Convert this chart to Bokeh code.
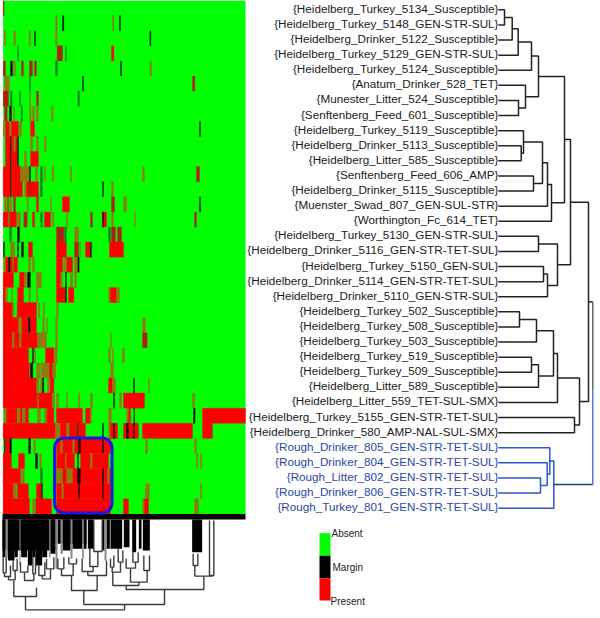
from bokeh.plotting import figure
from bokeh.embed import file_html
from bokeh.resources import INLINE
from bokeh.core.properties import value

row_labels = [
 "{Heidelberg_Turkey_5134_Susceptible}","{Heidelberg_Turkey_5148_GEN-STR-SUL}","{Heidelberg_Drinker_5122_Susceptible}",
 "{Heidelberg_Turkey_5129_GEN-STR-SUL}","{Heidelberg_Turkey_5124_Susceptible}","{Anatum_Drinker_528_TET}",
 "{Munester_Litter_524_Susceptible}","{Senftenberg_Feed_601_Susceptible}","{Heidelberg_Turkey_5119_Susceptible}",
 "{Heidelberg_Drinker_5113_Susceptible}","{Heidelberg_Litter_585_Susceptible}","{Senftenberg_Feed_606_AMP}",
 "{Heidelberg_Drinker_5115_Susceptible}","{Muenster_Swad_807_GEN-SUL-STR}","{Worthington_Fc_614_TET}",
 "{Heidelberg_Turkey_5130_GEN-STR-SUL}","{Heidelberg_Drinker_5116_GEN-STR-TET-SUL}","{Heidelberg_Turkey_5150_GEN-SUL}",
 "{Heidelberg_Drinker_5114_GEN-STR-TET-SUL}","{Heidelberg_Drinker_5110_GEN-STR-SUL}","{Heidelberg_Turkey_502_Susceptible}",
 "{Heidelberg_Turkey_508_Susceptible}","{Heidelberg_Turkey_503_Susceptible}","{Heidelberg_Turkey_519_Susceptible}",
 "{Heidelberg_Turkey_509_Susceptible}","{Heidelberg_Litter_589_Susceptible}","{Heidelberg_Litter_559_TET-SUL-SMX}",
 "{Heidelberg_Turkey_5155_GEN-STR-TET-SUL}","{Heidelberg_Drinker_580_AMP-NAL-SUL-SMX}","{Rough_Drinker_805_GEN-STR-TET-SUL}",
 "{Rough_Drinker_804_GEN-STR-TET-SUL}","{Rough_Litter_802_GEN-STR-TET-SUL}","{Rough_Drinker_806_GEN-STR-TET-SUL}",
 "{Rough_Turkey_801_GEN-STR-TET-SUL}"]
blue_rows = list(range(29, 34))

# Heat map runs per row: (start, end, state); columns counted in thirds of a cell
heat_runs = [
 [(8,11,"D")],
 [(165,170,"O"),(186,190,"K"),(336,340,"O"),(357,360,"K")],
 [(11,15,"O"),(40,45,"O"),(86,90,"O"),(102,105,"K"),(165,170,"O"),(448,451,"K")],
 [(51,54,"G"),(170,186,"D"),(195,198,"G"),(333,340,"R")],
 [(8,15,"D"),(30,36,"K"),(39,45,"O"),(63,69,"D"),(87,96,"D"),(102,108,"D"),(165,171,"G"),(360,363,"K"),(448,453,"O")],
 [(12,27,"O"),(87,90,"G"),(246,249,"K"),(576,583,"D")],
 [(8,24,"D"),(30,35,"G"),(57,60,"G"),(87,90,"O"),(108,114,"D"),(232,237,"G")],
 [(12,20,"D"),(27,33,"K"),(39,42,"O"),(62,66,"G"),(87,92,"O"),(96,102,"O"),(108,114,"O"),(153,158,"O")],
 [(8,12,"O"),(15,27,"R"),(27,33,"O"),(33,54,"R"),(57,63,"O"),(90,102,"R"),(597,600,"K")],
 [(15,30,"R"),(30,33,"K"),(33,51,"R"),(39,45,"O"),(51,54,"K"),(90,96,"O"),(108,114,"O"),(132,137,"O")],
 [(15,30,"R"),(30,33,"K"),(33,51,"R"),(51,54,"K"),(72,78,"O"),(90,114,"R")],
 [(8,30,"R"),(30,33,"K"),(33,60,"R"),(60,87,"O"),(87,90,"K"),(105,111,"O"),(120,126,"G"),(132,135,"O"),(155,160,"O"),(210,214,"O"),(426,432,"O"),(588,597,"D")],
 [(8,30,"R"),(30,33,"K"),(33,66,"R"),(72,78,"O"),(78,114,"R"),(85,90,"D"),(120,126,"G"),(306,309,"K"),(333,339,"O")],
 [(12,18,"O"),(21,24,"D"),(27,33,"O"),(39,45,"D"),(80,84,"O"),(108,114,"R"),(150,153,"O"),(186,207,"R"),(333,342,"D"),(369,378,"O"),(597,600,"K")],
 [(8,24,"R"),(27,48,"R"),(51,60,"O"),(70,80,"D"),(96,102,"R"),(120,126,"G"),(132,150,"R"),(155,160,"O"),(198,202,"O"),(270,276,"D"),(306,318,"R"),(306,309,"K"),(333,339,"O"),(402,405,"O"),(582,588,"D")],
 [(27,33,"G"),(51,57,"K"),(168,190,"D"),(192,198,"G"),(222,234,"O"),(324,330,"G"),(333,345,"D"),(351,363,"D")],
 [(9,12,"K"),(30,42,"O"),(51,54,"K"),(63,69,"K"),(84,96,"R"),(168,198,"R"),(222,234,"D"),(237,240,"O"),(255,270,"R"),(270,273,"K"),(327,369,"R")],
 [(10,15,"O"),(16,24,"R"),(24,30,"K"),(30,36,"R"),(39,51,"R"),(84,90,"O"),(96,102,"O"),(168,186,"R"),(189,195,"O"),(198,216,"R"),(222,232,"O"),(232,236,"K")],
 [(8,39,"R"),(57,72,"R"),(72,78,"O"),(81,90,"K"),(108,123,"O"),(168,180,"R"),(180,186,"O"),(195,198,"K"),(210,216,"O"),(222,228,"O")],
 [(8,15,"R"),(15,21,"O"),(33,36,"O"),(51,69,"R"),(85,90,"O"),(108,112,"O"),(168,195,"R"),(195,198,"K"),(204,220,"R"),(324,330,"O"),(330,348,"R"),(350,357,"O")],
 [(8,36,"R"),(36,40,"O"),(50,108,"R"),(114,118,"O"),(128,132,"O"),(168,174,"O")],
 [(8,54,"R"),(54,60,"O"),(63,84,"R"),(84,90,"K"),(90,108,"R"),(126,132,"O"),(138,141,"O"),(165,171,"O"),(426,435,"O")],
 [(8,36,"R"),(36,42,"O"),(42,57,"R"),(57,63,"O"),(63,111,"R"),(111,138,"O"),(165,171,"O"),(330,333,"O"),(426,440,"D")],
 [(8,84,"R"),(96,100,"K"),(100,105,"O"),(135,160,"R"),(162,170,"O"),(324,330,"O"),(336,339,"O"),(366,372,"O")],
 [(8,87,"R"),(87,90,"O"),(90,97,"K"),(108,120,"O"),(123,147,"O"),(147,156,"R"),(156,166,"O"),(330,339,"O")],
 [(8,108,"R"),(110,115,"O"),(120,126,"O"),(126,130,"K"),(141,150,"O"),(150,160,"R"),(324,336,"R"),(336,345,"O"),(399,402,"K"),(444,447,"O")],
 [(8,111,"R"),(114,155,"R"),(155,162,"O"),(168,174,"O"),(198,201,"O"),(234,238,"O"),(270,276,"O"),(339,342,"K"),(357,363,"O"),(369,432,"R"),(576,582,"O")],
 [(11,16,"O"),(18,50,"R"),(51,60,"O"),(60,66,"R"),(66,75,"O"),(75,84,"R"),(111,120,"O"),(132,140,"O"),(140,160,"R"),(168,246,"R"),(255,270,"R"),(270,273,"O"),(324,333,"O"),(378,384,"O"),(384,390,"R"),(400,402,"K"),(579,584,"K"),(606,735,"R")],
 [(8,165,"R"),(165,180,"O"),(180,198,"R"),(198,207,"O"),(207,230,"R"),(231,234,"K"),(234,255,"R"),(306,309,"K"),(324,330,"O"),(330,351,"R"),(339,342,"K"),(369,414,"R"),(378,384,"K"),(399,402,"K"),(426,576,"R"),(606,636,"R")],
 [(12,15,"K"),(15,28,"R"),(28,33,"K"),(84,90,"K"),(100,105,"O"),(168,330,"R"),(180,186,"O"),(216,222,"O"),(234,240,"K"),(306,309,"K"),(435,441,"O"),(582,588,"O")],
 [(8,33,"R"),(54,72,"R"),(105,111,"K"),(117,123,"O"),(168,195,"R"),(195,198,"O"),(198,222,"R"),(231,234,"K"),(240,270,"R"),(270,276,"O"),(276,324,"R"),(588,592,"O"),(600,604,"O")],
 [(8,60,"R"),(63,72,"O"),(120,126,"G"),(168,330,"R"),(168,186,"O"),(198,216,"O"),(231,240,"K"),(306,309,"K"),(321,326,"O")],
 [(8,39,"R"),(39,48,"O"),(51,84,"R"),(108,123,"R"),(123,126,"K"),(168,330,"R"),(183,189,"O"),(234,237,"K"),(306,309,"K"),(435,447,"O"),(600,604,"O")],
 [(8,87,"R"),(96,102,"O"),(105,153,"R"),(168,330,"R"),(369,384,"R"),(426,432,"O"),(432,444,"R"),(582,594,"O")],
]
state_colors = {"R":"#ff0000","O":"#8f7a12","D":"#b02010","K":"#0a0a0a","G":"#127a22"}

# Row tree merges: (node, child, child, height)
row_merges = [
 ("a",0,1,504),("b","a",2,511.7),("c","b",3,517.7),("d","c",4,531),("e",6,7,518),("f",5,"e",525),("g","d","f",538),
 ("h",9,10,520.7),("i",8,"h",523),("j",11,12,533),("k","i","j",542),("l","k",13,547),("m","l",14,551),("n","g","m",564),
 ("o",15,16,538),("p",17,18,543),("q","p",19,547),("r","o","q",557),("s","n","r",570),
 ("t",20,21,519),("u","t",22,536),("v",23,24,531),("w","v",25,538),("x","u","w",553),("y","x",26,557),("z",27,28,574),
 ("aa","y","z",579),("ab","s","aa",588),
 ("b1",31,32,540),("b2",30,"b1",546.7),("b3",29,"b2",549.3),("b4","b3",33,553.3),("root","ab","b4",592.3)]
blue_nodes = ["b1","b2","b3","b4"]
root_gray_until = 390

# Column tree merges, thirds of a cell: (left, right, level, left top, right top)
col_merges = [
 (75,372,283,243,267),(40,108,243,195,217),(250,492,267,225,222),(213,290,225,180,180),(377,610,222,210,182),
 (337,415,210,170,200),(390,440,200,160,165),(377,405,158,130,140),(397,413,140,110,110),(430,447,165,120,120),
 (335,360,170,155,140),(330,340,155,130,120),(353,367,140,100,105),(583,635,182,150,180),(578,592,150,115,115),(627,640,180,15,15),
 (8,17,172,125,125),(12,30,183,172,150),(38,50,165,135,130),(24,44,193,183,165),(60,82,170,140,150),(97,105,175,125,125),
 (72,100,195,172,175),(115,133,180,150,140),(138,160,160,130,125),(125,150,190,180,160),(172,190,160,130,125),(205,228,145,125,130),
 (183,218,180,160,145),(245,278,168,130,153),(262,318,180,168,135),(268,292,153,100,108),(280,305,108,15,15),
]
# Dense upper part of the column tree: (left, right, bottom)
col_dense = [(6,165,105),(171,258,85),(6,15,125),(22,42,135),(42,52,125),(62,80,125),(82,95,150),(95,105,125),(105,125,150),(125,140,125),(150,165,115),
 (187,210,105),(216,245,100),(250,258,100),(262,280,100),(305,312,105),(318,328,100),(330,365,100),(370,387,95),
 (395,407,110),(415,423,100),(427,448,105),(575,605,110)]
col_stalks = [(15,22,125),(57,60,150),(146,150,125),(165,171,160),(180,187,115),(210,216,130),(245,250,130),(312,318,135)]

legend_states = ["Absent","Margin","Present"]
legend_colors = ["#00ff00","#000000","#ff0000"]

ROW_H = 15.1
p = figure(width=600, height=618, x_range=(0,600), y_range=(618,0), output_backend="svg",
           toolbar_location=None, x_axis_type=None, y_axis_type=None, min_border=0,
           outline_line_color=None)
p.xgrid.visible = False; p.ygrid.visible = False

# heat map
p.quad(left=[8/3], right=[245], top=[0], bottom=[34*ROW_H], fill_color="#00ff00", line_color=None)
L,Rr,T,B,C = [],[],[],[],[]
for i,runs in enumerate(heat_runs):
    for a,b,s in runs:
        L.append(a/3); Rr.append(b/3); T.append(i*ROW_H); B.append((i+1)*ROW_H); C.append(state_colors[s])
p.quad(left=L,right=Rr,top=T,bottom=B,fill_color=C,line_color=C,line_width=0.3)
p.quad(left=[2],right=[245],top=[34*ROW_H],bottom=[519],fill_color="#000000",line_color=None)
p.quad(left=[54],right=[111.5],top=[437.5],bottom=[512.5],fill_color=None,line_color="#1818e0",line_width=3,border_radius=10)

# column tree
bx=lambda u:u/3
by=lambda v:515+v/3
p.quad(left=[bx(a) for a,b,v in col_dense],right=[bx(b) for a,b,v in col_dense],top=[519]*len(col_dense),
       bottom=[by(v) for a,b,v in col_dense],fill_color="#000000",line_color=None)
p.quad(left=[bx(a) for a,b,v in col_stalks],right=[bx(b) for a,b,v in col_stalks],top=[519]*len(col_stalks),
       bottom=[by(v) for a,b,v in col_stalks],fill_color="#8a8a8a",line_color=None)
p.multi_line([[bx(l),bx(l),bx(r),bx(r)] for l,r,v,tl,tr in col_merges],
             [[by(tl),by(v),by(v),by(tr)] for l,r,v,tl,tr in col_merges],line_color="#3a3a3a",line_width=1.4)

# row labels
ry=lambda i:(i+0.5)*ROW_H+1.8
txt=[ "#2848a8" if i in blue_rows else "#1a1a1a" for i in range(len(row_labels))]
p.text(x=[498]*len(row_labels),y=[ry(i)-1.5 for i in range(len(row_labels))],text=row_labels,text_color=txt,
       text_align="right",text_baseline="middle",text_font=value("Liberation Sans"),text_font_size="11.7px")

# row tree
pos={i:(498,ry(i)) for i in range(len(row_labels))}
xs,ys,cols=[],[],[]
BLUE="#3355cc"; DARK="#222222"
for name,a,b,h in row_merges:
    xa,ya=pos[a]; xb,yb=pos[b]
    blue = name in blue_nodes
    c = BLUE if blue else DARK
    if name=="root":
        xs += [[xa,h],[xb,h],[h,h],[h,h]]; ys += [[ya,ya],[yb,yb],[ya,root_gray_until],[root_gray_until,yb]]
        cols += [DARK,"#1a4a70","#666666","#5577cc"]
    else:
        xs += [[xa,h,h,xb]]; ys += [[ya,ya,yb,yb]]; cols += [c]
    pos[name]=(h,(ya+yb)/2)
p.multi_line(xs,ys,line_color=cols,line_width=1.5)

# legend
ly=[532.7,555.2,577.7,600]
p.quad(left=[319]*3,right=[330]*3,top=ly[:3],bottom=ly[1:],fill_color=legend_colors,line_color=None)
p.text(x=[331,332,330],y=[533,567,601],text=legend_states,text_baseline="middle",text_font=value("Liberation Sans"),
       text_font_size="10px",text_color="#222222")

open("out.html","w").write(file_html(p,INLINE))
